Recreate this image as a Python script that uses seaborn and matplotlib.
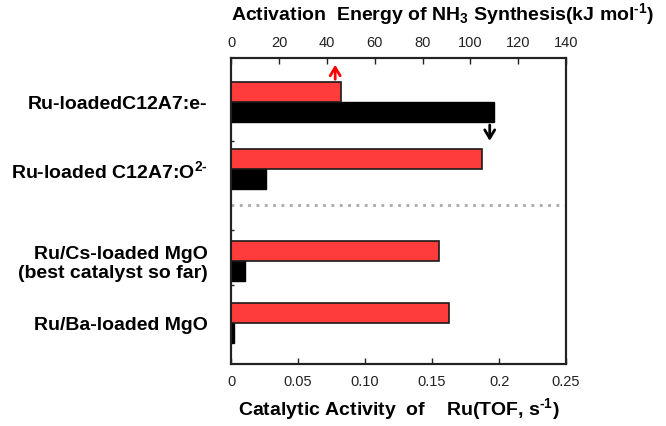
import numpy as np
import pandas as pd
import matplotlib
matplotlib.use("Agg")
import matplotlib.pyplot as plt
import seaborn as sns

# data
catalysts = ["Ru-loadedC12A7:e-",
             "Ru-loaded C12A7:O$^{\\text{2-}}$",
             "Ru/Cs-loaded MgO\n(best catalyst so far)",
             "Ru/Ba-loaded MgO"]
activation_energy = [46, 105, 87, 91]       # kJ/mol, top axis
tof = [0.196, 0.026, 0.010, 0.0025]         # s-1, bottom axis

top_ticks = [0, 20, 40, 60, 80, 100, 120, 140]
bottom_ticks = [0, 0.05, 0.10, 0.15, 0.2, 0.25]
bottom_ticklabels = ["0", "0.05", "0.10", "0.15", "0.2", "0.25"]

# layout (group centres, uneven gaps like the original)
group_pos = np.array([0.0, 1.0, 2.37, 3.30])
bar_h = 0.3

sns.set_theme(style="white")
plt.rcParams["font.family"] = ["Liberation Sans", "DejaVu Sans"]
plt.rcParams["mathtext.fontset"] = "custom"
plt.rcParams["mathtext.rm"] = "Liberation Sans:bold"
plt.rcParams["mathtext.bf"] = "Liberation Sans:bold"
plt.rcParams["mathtext.default"] = "bf"
plt.rcParams["text.color"] = "black"
plt.rcParams["axes.labelcolor"] = "black"

red_df = pd.DataFrame({"y": group_pos - bar_h / 2, "val": activation_energy})
black_df = pd.DataFrame({"y": group_pos + bar_h / 2, "val": tof})
w = bar_h / np.diff(group_pos).min()

fig = plt.figure(figsize=(6.66, 4.26), dpi=100)
ax = fig.add_axes([0.347, 0.1455, 0.503, 0.7185])
ax2 = ax.twiny()

sns.barplot(data=black_df, x="val", y="y", orient="h", native_scale=True,
            color="black", edgecolor="black", linewidth=1, width=w,
            saturation=1, ax=ax)
sns.barplot(data=red_df, x="val", y="y", orient="h", native_scale=True,
            color="#ff3c3c", edgecolor="#1a1a1a", linewidth=1.2, width=w,
            saturation=1, ax=ax2)

ax.set_xlim(0, 0.25)
ax2.set_xlim(0, 140)
ax.set_ylim(3.91, -0.66)
ax2.set_ylim(3.91, -0.66)

# dotted separator
ax.axhline(1.54, color="#a8a8a8", linestyle=(0, (1, 2)), lw=2)

# arrows
ax2.annotate("", xy=(43.5, -0.6), xytext=(43.5, -0.3),
             arrowprops=dict(arrowstyle="->,head_length=0.5,head_width=0.3",
                             color="red", lw=2))
ax.annotate("", xy=(0.193, 0.62), xytext=(0.193, 0.3),
            arrowprops=dict(arrowstyle="->,head_length=0.5,head_width=0.3",
                            color="black", lw=2))

# axes styling
for a in (ax, ax2):
    for s in a.spines.values():
        s.set_color("#222222")
        s.set_linewidth(1.5)

ax.set_xticks(bottom_ticks)
ax.set_xticklabels(bottom_ticklabels)
ax.tick_params(axis="x", direction="in", length=4, width=1, labelsize=10.5,
               pad=8, colors="#222222", bottom=True)
ax2.set_xticks(top_ticks)
ax2.tick_params(axis="x", direction="in", length=4, width=1, labelsize=10.5,
                pad=6, colors="#222222", top=True)

ax.set_yticks(group_pos)
ax.set_yticklabels(catalysts, fontsize=14, fontweight="bold", color="black")
ax.tick_params(axis="y", length=0, pad=17)
ax.set_yticks([0.58, 1.91, 2.73], minor=True)
ax.tick_params(axis="y", which="minor", direction="in", length=2, width=1, left=True)
ax2.set_ylabel("")
ax2.tick_params(axis="y", length=0)

ax.set_xlabel("Catalytic Activity  of    Ru(TOF, s$^{\\text{-1}}$)", fontsize=14,
              fontweight="bold", labelpad=5)
ax2.set_xlabel("Activation  Energy of NH$_{\\text{3}}$ Synthesis(kJ mol$^{\\text{-1}}$)",
               fontsize=14, fontweight="bold", loc="left", labelpad=11)
ax.set_ylabel("")

fig.savefig("out.png", dpi=100)
